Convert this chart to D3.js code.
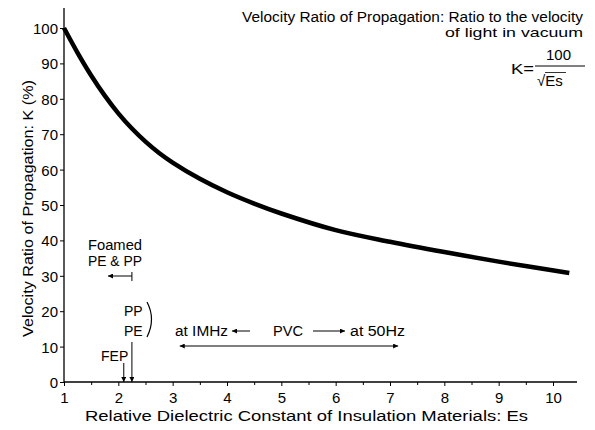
<!DOCTYPE html>
<html>
<head>
<meta charset="utf-8">
<script src="https://cdn.jsdelivr.net/npm/d3@7"></script>
<style>
  html, body { margin: 0; padding: 0; background: #fff; }
  svg { display: block; font-family: "Liberation Sans", Arial, Helvetica, sans-serif; }
</style>
</head>
<body>
<svg id="chart" width="595" height="430"></svg>
<script>
// ---- data ----
const esValues = [1, 1.25, 1.5, 1.75, 2, 2.25, 2.5, 2.75, 3, 3.5, 4, 4.5, 5, 6, 7, 8, 9, 10.3];
const kValues  = [100, 93.0, 86.6, 80.9, 75.9, 71.6, 67.9, 64.7, 62.0, 57.4, 53.6, 50.4, 47.6, 42.9, 39.6, 36.7, 34.0, 30.8];
const yTickValues = [0, 10, 20, 30, 40, 50, 60, 70, 80, 90, 100];
const xTickLabels = [1, 2, 3, 4, 5, 6, 7, 8, 9, 10];
const xMinorTicks = [1.5, 2.5, 3.5, 4.5, 5.5, 6.5, 7.5, 8.5, 9.5];
const foamedEnd = 2.25;      // Foamed PE & PP (arrow pointing to lower Es)
const fepEs = 2.1;
const pePpEs = 2.25;
const pvcRange = [3.13, 7.15];
const titleLines = ["Velocity Ratio of Propagation: Ratio to the velocity", "of light in vacuum"];
const xTitle = "Relative Dielectric Constant of Insulation Materials: Es";
const yTitle = "Velocity Ratio of Propagation: K (%)";

const svg = d3.select("#chart");
const x = d3.scaleLinear().domain([1, 10]).range([64, 553]);
const y = d3.scaleLinear().domain([0, 100]).range([382, 28]);

const defs = svg.append("defs");
function marker(id, w, h) {
  defs.append("marker").attr("id", id)
    .attr("viewBox", "0 0 10 10").attr("refX", 10).attr("refY", 5)
    .attr("markerWidth", w).attr("markerHeight", h)
    .attr("markerUnits", "userSpaceOnUse")
    .attr("orient", "auto-start-reverse")
    .append("path").attr("d", "M0,0 L10,5 L0,10 z").attr("fill", "#000");
}
marker("arr", 7, 5);

// ---- axes ----
const yAxis = d3.axisLeft(y).tickValues(yTickValues).tickSize(4).tickSizeOuter(0);
const gy = svg.append("g").attr("transform", `translate(${x(1)},0)`).call(yAxis);
gy.select(".domain").remove();
gy.selectAll("text").attr("font-size", 15).attr("fill", "#000").attr("x", -6).attr("dy", "0.36em");
gy.selectAll("line").attr("stroke", "#000");
svg.append("line").attr("x1", x(1)).attr("x2", x(1)).attr("y1", 8).attr("y2", y(0))
  .attr("stroke", "#000").attr("stroke-width", 1.3);

const xAxis = d3.axisBottom(x).tickValues(xTickLabels).tickSize(4).tickSizeOuter(0);
const gx = svg.append("g").attr("transform", `translate(0,${y(0)})`).call(xAxis);
gx.select(".domain").remove();
gx.selectAll("text").attr("font-size", 15).attr("fill", "#000").attr("y", 10).attr("dy", "0.71em");
gx.selectAll("line").attr("stroke", "#000");
const xMinor = d3.axisBottom(x).tickValues(xMinorTicks).tickSize(3).tickFormat("");
const gxm = svg.append("g").attr("transform", `translate(0,${y(0)})`).call(xMinor);
gxm.select(".domain").remove();
gxm.selectAll("line").attr("stroke", "#000");
svg.append("line").attr("x1", x(1)).attr("x2", 577).attr("y1", y(0)).attr("y2", y(0))
  .attr("stroke", "#000").attr("stroke-width", 1.3);

// axis titles
svg.append("text").attr("x", 85).attr("y", 421)
  .attr("font-size", 15.5).attr("textLength", 443).attr("lengthAdjust", "spacingAndGlyphs")
  .text(xTitle);
svg.append("text").attr("transform", `translate(33,337) rotate(-90)`)
  .attr("font-size", 15).attr("textLength", 257).attr("lengthAdjust", "spacingAndGlyphs")
  .text(yTitle);

// ---- curve ----
const pts = esValues.map((e, i) => [e, kValues[i]]);
svg.append("path").datum(pts)
  .attr("d", d3.line().x(d => x(d[0])).y(d => y(d[1])).curve(d3.curveCatmullRom.alpha(0.5)))
  .attr("fill", "none").attr("stroke", "#000").attr("stroke-width", 4.5)
  .attr("stroke-linecap", "butt");

// ---- title & formula ----
svg.append("text").attr("x", 242).attr("y", 22)
  .attr("font-size", 14).attr("textLength", 341).attr("lengthAdjust", "spacingAndGlyphs")
  .text(titleLines[0]);
svg.append("text").attr("x", 445).attr("y", 37)
  .attr("font-size", 13.5).attr("textLength", 138).attr("lengthAdjust", "spacingAndGlyphs")
  .text(titleLines[1]);
svg.append("text").attr("x", 511).attr("y", 74).attr("font-size", 15)
  .attr("textLength", 23).attr("lengthAdjust", "spacingAndGlyphs").text("K=");
svg.append("text").attr("x", 546).attr("y", 60).attr("font-size", 15).text("100");
svg.append("line").attr("x1", 535).attr("x2", 585).attr("y1", 66).attr("y2", 66)
  .attr("stroke", "#000").attr("stroke-width", 1);
svg.append("text").attr("x", 537).attr("y", 86).attr("font-size", 15).text("√Es");
svg.append("line").attr("x1", 545).attr("x2", 566).attr("y1", 72.5).attr("y2", 72.5)
  .attr("stroke", "#000").attr("stroke-width", 0.8);

// ---- annotations ----
const ann = svg.append("g").attr("font-size", 14);
function label(tx, ty, txt, len) {
  const t = ann.append("text").attr("x", tx).attr("y", ty).text(txt);
  if (len) t.attr("textLength", len).attr("lengthAdjust", "spacingAndGlyphs");
  return t;
}
// Foamed PE & PP
label(88, 250, "Foamed", 54);
label(88, 266, "PE & PP", 54);
ann.append("line").attr("x1", x(foamedEnd)).attr("x2", 108).attr("y1", 276).attr("y2", 276)
  .attr("stroke", "#000").attr("stroke-width", 1).attr("marker-end", "url(#arr)");
ann.append("line").attr("x1", x(foamedEnd)).attr("x2", x(foamedEnd)).attr("y1", 272).attr("y2", 281)
  .attr("stroke", "#000").attr("stroke-width", 1);

// PP / PE with bracket
label(124, 316, "PP");
label(124, 336, "PE");
ann.append("path").attr("d", "M147,302 Q156,319 147,337").attr("fill", "none")
  .attr("stroke", "#000").attr("stroke-width", 1.2);
ann.append("line").attr("x1", x(pePpEs)).attr("x2", x(pePpEs)).attr("y1", 342).attr("y2", y(0))
  .attr("stroke", "#000").attr("stroke-width", 1).attr("marker-end", "url(#arr)");

// FEP
label(101, 361, "FEP");
ann.append("line").attr("x1", x(fepEs)).attr("x2", x(fepEs)).attr("y1", 363).attr("y2", y(0))
  .attr("stroke", "#000").attr("stroke-width", 1).attr("marker-end", "url(#arr)");

// PVC
label(175, 336, "at IMHz", 53);
ann.append("line").attr("x1", 250).attr("x2", 232).attr("y1", 331).attr("y2", 331)
  .attr("stroke", "#000").attr("stroke-width", 1).attr("marker-end", "url(#arr)");
label(273, 336, "PVC", 30);
ann.append("line").attr("x1", 313).attr("x2", 345).attr("y1", 331).attr("y2", 331)
  .attr("stroke", "#000").attr("stroke-width", 1).attr("marker-end", "url(#arr)");
label(350, 336, "at 50Hz", 55);
ann.append("line").attr("x1", x(pvcRange[0])).attr("x2", x(pvcRange[1])).attr("y1", 346).attr("y2", 346)
  .attr("stroke", "#000").attr("stroke-width", 1.2)
  .attr("marker-start", "url(#arr)").attr("marker-end", "url(#arr)");
</script>
</body>
</html>
